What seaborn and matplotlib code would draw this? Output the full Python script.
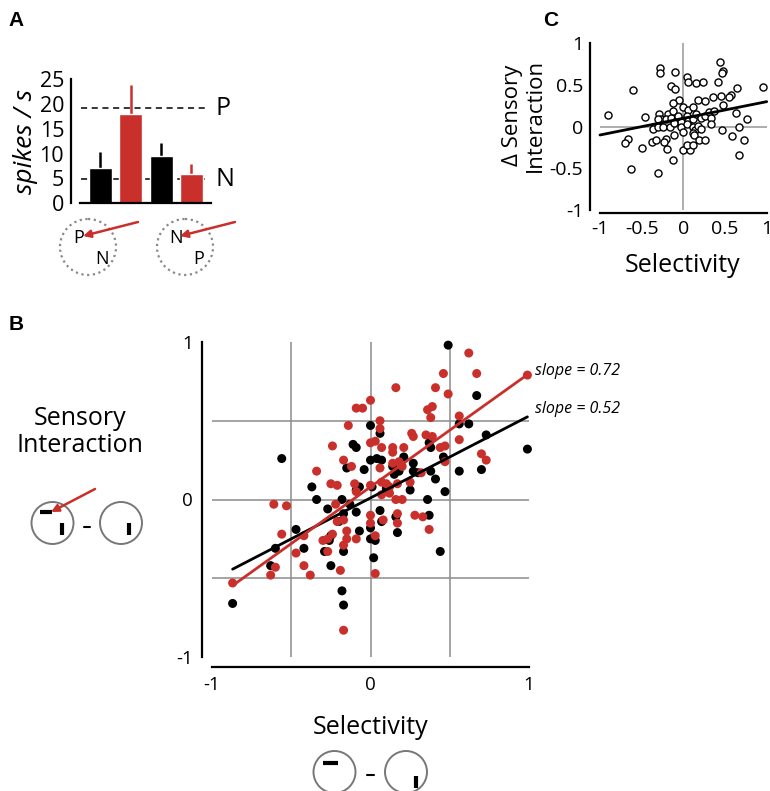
import numpy as np
import pandas as pd
import seaborn as sns
import matplotlib.pyplot as plt
from matplotlib.patches import Circle

sns.set_style("white")
plt.rcParams['font.family'] = ['Open Sans', 'DejaVu Sans']
plt.rcParams['text.color'] = 'black'
plt.rcParams['axes.labelcolor'] = 'black'
plt.rcParams['xtick.color'] = 'black'
plt.rcParams['ytick.color'] = 'black'

RED = '#c9302c'
W, H = 770, 791

# ---- panel A data: firing rate (spikes/s) for the four conditions
cond = ['P_none', 'P_cue', 'N_none', 'N_cue']
rate = [7.0, 17.9, 9.5, 5.8]
rate_err = [3.3, 5.9, 2.6, 2.1]
bar_colors = ['black', RED, 'black', RED]
level_P = 19.1
level_N = 4.8

# ---- panel B data: sensory interaction vs selectivity
black_x = [0.49, 0.67, 0.99, -0.56, 0.0, 0.06, 0.56, 0.62, 0.73, -0.11, -0.09, 0.37, 0.38,
           0.0, 0.04, 0.07, 0.46, 0.21, -0.15, -0.04, 0.14, 0.15, 0.18, 0.27, 0.27, 0.30,
           0.38, 0.41, 0.56, 0.70, -0.37, -0.34, -0.07, -0.09, 0.01, 0.10, 0.25, 0.36, 0.47,
           -0.27, -0.18, -0.13, -0.09, -0.17, -0.20, -0.47, -0.60, -0.63, -0.42, -0.29, -0.25,
           -0.17, -0.26, -0.25, -0.07, 0.0, 0.0, 0.03, 0.02, 0.06, 0.07, 0.16, 0.17, 0.37,
           0.44, -0.87, -0.18, -0.17]
black_y = [0.98, 0.66, 0.32, 0.26, 0.47, 0.42, 0.48, 0.48, 0.41, 0.35, 0.33, 0.36, 0.33,
           0.25, 0.26, 0.25, 0.27, 0.27, 0.20, 0.19, 0.21, 0.16, 0.18, 0.23, 0.18, 0.17,
           0.18, 0.13, 0.18, 0.19, 0.08, 0.0, 0.08, 0.06, 0.08, 0.07, 0.06, 0.0, 0.05,
           -0.06, 0.0, -0.03, -0.08, -0.09, -0.14, -0.19, -0.31, -0.42, -0.31, -0.33, -0.42,
           -0.33, -0.26, -0.23, -0.20, -0.18, -0.25, -0.26, -0.37, -0.07, -0.14, -0.11, -0.21, -0.10,
           -0.33, -0.66, -0.58, -0.67]
red_x = [0.62, 0.46, 0.67, 0.16, 0.41, 0.49, 0.0, -0.09, -0.05, 0.36, 0.39, 0.38, 0.56,
         0.06, 0.06, -0.14, -0.24, 0.0, 0.03, 0.07, 0.14, 0.14, 0.21, 0.26, 0.27, 0.35,
         0.39, 0.44, 0.47, 0.56, -0.17, -0.12, 0.06, 0.14, 0.18, 0.20, 0.47, 0.70, 0.73,
         -0.34, 0.32, -0.25, -0.21, -0.10, -0.09, 0.0, 0.07, 0.10, 0.12, 0.17, 0.25, 0.07,
         0.16, 0.20, -0.61, -0.53, -0.22, 0.0, 0.0, 0.08, 0.17, 0.17, 0.12, 0.28, 0.33,
         0.37, -0.21, -0.17, -0.15, -0.15, -0.17, -0.24, -0.27, -0.30, -0.09, -0.27, 0.03,
         -0.42, -0.56, -0.47, -0.42, -0.38, -0.60, -0.63, -0.19, 0.03, -0.87, -0.17, 0.99]
red_y = [0.93, 0.80, 0.80, 0.71, 0.71, 0.67, 0.63, 0.58, 0.58, 0.57, 0.59, 0.52, 0.53,
         0.50, 0.45, 0.47, 0.34, 0.36, 0.37, 0.33, 0.33, 0.30, 0.33, 0.42, 0.40, 0.41,
         0.40, 0.33, 0.34, 0.38, 0.25, 0.21, 0.20, 0.23, 0.24, 0.21, 0.24, 0.29, 0.25,
         0.18, 0.17, 0.10, 0.09, 0.10, 0.05, 0.09, 0.11, 0.10, 0.08, 0.10, 0.11, 0.03,
         0.0, 0.0, -0.03, -0.04, -0.03, -0.10, -0.15, -0.13, -0.09, -0.15, 0.04, -0.10, -0.11,
         -0.19, -0.14, -0.13, -0.20, -0.25, -0.29, -0.22, -0.25, -0.26, -0.25, -0.33, -0.23,
         -0.23, -0.22, -0.34, -0.42, -0.48, -0.43, -0.48, -0.45, -0.47, -0.53, -0.83, 0.79]
fit_x = [-0.87, 0.99]
black_fit = (0.01, 0.52)   # intercept, slope
red_fit = (0.08, 0.72)

# ---- panel C data: delta sensory interaction vs selectivity
c_x = [-0.91, -0.60, -0.63, -0.67, -0.70, -0.50, -0.46, -0.30, -0.28, -0.28, -0.10, -0.15,
       -0.10, 0.04, 0.05, 0.15, 0.24, 0.44, 0.47, 0.46, 0.42, 0.95, 0.64, 0.57, 0.55, 0.45,
       0.35, 0.47, 0.17, 0.26, -0.05, -0.13, -0.01, 0.05, 0.12, -0.29, -0.27, -0.31, -0.19,
       -0.21, -0.15, -0.13, -0.09, -0.03, -0.06, 0.04, 0.05, 0.11, 0.15, 0.21, 0.26, 0.31,
       0.33, 0.37, 0.33, 0.63, 0.76, -0.36, -0.30, -0.25, -0.16, -0.11, -0.03, 0.04, 0.11,
       0.14, 0.17, 0.21, -0.38, -0.33, -0.21, -0.23, -0.20, -0.11, 0.0, 0.11, 0.13, 0.19,
       0.26, -0.12, 0.0, 0.08, 0.04, 0.11, 0.46, 0.58, 0.67, 0.73, 0.67]
c_y = [0.14, 0.44, -0.51, -0.15, -0.20, -0.26, 0.11, -0.56, 0.70, 0.64, 0.65, 0.49,
       0.45, 0.59, 0.53, 0.52, 0.54, 0.78, 0.67, 0.64, 0.54, 0.48, 0.46, 0.38, 0.35, 0.37,
       0.36, 0.26, 0.32, 0.31, 0.32, 0.28, 0.23, 0.20, 0.24, 0.15, 0.09, 0.09, 0.15,
       0.09, 0.10, 0.19, 0.07, 0.06, 0.13, 0.13, 0.07, 0.09, 0.15, 0.10, 0.13, 0.17,
       0.10, 0.19, 0.03, 0.16, 0.09, -0.03, 0.0, 0.0, 0.0, 0.04, -0.01, 0.03, -0.01,
       -0.04, 0.01, -0.03, -0.19, -0.16, -0.15, -0.19, -0.27, -0.10, -0.06, -0.08, -0.10, -0.16,
       -0.16, -0.40, -0.28, -0.28, -0.22, -0.22, -0.04, -0.11, 0.0, -0.16, -0.34]
c_fit_x = [-1.0, 1.0]
c_fit = (0.10, 0.20)


def box(l, t, r, b):
    return [l / W, 1 - b / H, (r - l) / W, (b - t) / H]


def style_axis(ax, size):
    for s in ['top', 'right']:
        ax.spines[s].set_visible(False)
    for s in ['left', 'bottom']:
        ax.spines[s].set_linewidth(1.6)
        ax.spines[s].set_color('black')
    ax.tick_params(direction='out', length=3, width=1.2, colors='black', labelsize=size, pad=2)


fig = plt.figure(figsize=(W / 100, H / 100), dpi=100)

# overlay for icons and free text, in pixel coordinates
ov = fig.add_axes([0, 0, 1, 1])
ov.set_xlim(0, W)
ov.set_ylim(H, 0)
ov.axis('off')

# ---------------- panel A
axA = fig.add_axes(box(71, 79, 215, 203.3))
dfA = pd.DataFrame({'cond': cond, 'rate': rate})
axA.hlines([level_P, level_N], -0.64, 3.55, colors='black', linestyles=(0, (4, 3)), lw=1.1, zorder=0)
axA.errorbar(range(4), rate, yerr=[np.zeros(4), rate_err], fmt='none', ecolor=bar_colors,
             elinewidth=1.8, capsize=0, zorder=1)
sns.barplot(data=dfA, x='cond', y='rate', hue='cond', palette=bar_colors, width=0.76,
            saturation=1, legend=False, ax=axA, zorder=2)
axA.set_xlim(-0.97, 3.78)
axA.set_ylim(0, 25)
axA.set_yticks([0, 5, 10, 15, 20, 25])
axA.set_xticks([])
axA.set_xlabel('')
axA.set_ylabel('spikes / s', style='italic', fontsize=19, labelpad=1)
style_axis(axA, 15.5)
axA.spines['bottom'].set_bounds(-0.67, 3.65)
axA.patch.set_alpha(0)
axA.text(3.78, level_P, 'P', fontsize=18, va='center', ha='left')
axA.text(3.78, level_N, 'N', fontsize=18, va='center', ha='left')

for cx, top, bot in [(88, 'P', 'N'), (185, 'N', 'P')]:
    ov.add_patch(Circle((cx, 247), 28, fill=False, ec='#8a8a8a', lw=1.6, ls=(0, (1, 1.6))))
    ov.text(cx - 9, 238, top, fontsize=13, ha='center', va='center')
    ov.text(cx + 14, 259, bot, fontsize=13, ha='center', va='center')
    ov.annotate('', xy=(cx - 5, 236), xytext=(cx + 50, 222),
                arrowprops=dict(arrowstyle='-|>', color=RED, lw=1.8, mutation_scale=11,
                                shrinkA=0, shrinkB=0))

# ---------------- panel B
axB = fig.add_axes(box(212, 342, 529, 657))
for v in [-0.5, 0, 0.5]:
    axB.axvline(v, color='#8c8c8c', lw=1.1, zorder=0)
    axB.axhline(v, color='#8c8c8c', lw=1.1, zorder=0)
sns.scatterplot(x=black_x, y=black_y, color='black', s=42, edgecolor='none', ax=axB, zorder=2,
                clip_on=False)
sns.scatterplot(x=red_x, y=red_y, color=RED, s=42, edgecolor='none', ax=axB, zorder=2,
                clip_on=False)
fx = np.array(fit_x)
axB.plot(fx, black_fit[0] + black_fit[1] * fx, color='black', lw=2, zorder=3, clip_on=False)
axB.plot(fx, red_fit[0] + red_fit[1] * fx, color=RED, lw=2, zorder=3, clip_on=False)
axB.set_xlim(-1, 1)
axB.set_ylim(-1, 1)
axB.set_xticks([-1, 0, 1])
axB.set_yticks([-1, 0, 1])
axB.set_xticklabels(['-1', '0', '1'])
axB.set_yticklabels(['-1', '0', '1'])
style_axis(axB, 13.5)
axB.tick_params(pad=4)
axB.spines['left'].set_position(('outward', 7))
axB.spines['bottom'].set_position(('outward', 7))
axB.patch.set_alpha(0)
axB.text(1.04, red_fit[0] + red_fit[1] * 0.99 + 0.02, 'slope = 0.72', style='italic',
         fontsize=11.5, va='center', ha='left')
axB.text(1.04, black_fit[0] + black_fit[1] * 0.99 + 0.05, 'slope = 0.52', style='italic',
         fontsize=11.5, va='center', ha='left')

ov.text(80, 432, 'Sensory\nInteraction', fontsize=18, ha='center', va='center', linespacing=1.15)
ov.add_patch(Circle((52.5, 523), 21, fill=False, ec='#777777', lw=1.4))
ov.add_patch(Circle((121, 523), 21, fill=False, ec='#777777', lw=1.4))
ov.plot([84, 90], [527, 527], color='black', lw=1.5)
ov.plot([40, 52], [512, 512], color='black', lw=3, solid_capstyle='butt')
ov.plot([62, 62], [523, 535], color='black', lw=3, solid_capstyle='butt')
ov.plot([129, 129], [523, 535], color='black', lw=3, solid_capstyle='butt')
ov.annotate('', xy=(51, 512), xytext=(95, 489),
            arrowprops=dict(arrowstyle='-|>', color=RED, lw=1.8, mutation_scale=11,
                            shrinkA=0, shrinkB=0))

ov.text(371, 728, 'Selectivity', fontsize=18, ha='center', va='center')
ov.add_patch(Circle((334.5, 772), 21, fill=False, ec='#777777', lw=1.4))
ov.add_patch(Circle((406, 772), 21, fill=False, ec='#777777', lw=1.4))
ov.plot([367, 374], [775, 775], color='black', lw=1.5)
ov.plot([323, 338], [763, 763], color='black', lw=3, solid_capstyle='butt')
ov.plot([415.7, 415.7], [776, 788], color='black', lw=3, solid_capstyle='butt')

# ---------------- panel C
axC = fig.add_axes(box(600, 43.3, 766.7, 210))
axC.axvline(0, color='#a0a0a0', lw=1.2, zorder=0)
axC.axhline(0, color='#a0a0a0', lw=1.2, zorder=0)
sns.scatterplot(x=c_x, y=c_y, s=26, facecolor='white', edgecolor='black', linewidth=1,
                ax=axC, zorder=2, clip_on=False)
cfx = np.array(c_fit_x)
axC.plot(cfx, c_fit[0] + c_fit[1] * cfx, color='black', lw=2, zorder=3, clip_on=False)
axC.set_xlim(-1, 1)
axC.set_ylim(-1, 1)
ticksC = [-1, -0.5, 0, 0.5, 1]
axC.set_xticks(ticksC)
axC.set_yticks(ticksC)
axC.set_xticklabels(['-1', '-0.5', '0', '0.5', '1'])
axC.set_yticklabels(['-1', '-0.5', '0', '0.5', '1'])
style_axis(axC, 14)
axC.spines['left'].set_position(('outward', 7))
axC.spines['bottom'].set_position(('outward', 2))
axC.patch.set_alpha(0)
ov.text(683, 266, 'Selectivity', fontsize=18, ha='center', va='center')
ov.text(524, 115, '\u0394 Sensory\nInteraction', fontsize=16, ha='center', va='center',
        rotation=90, linespacing=1.1)

# panel letters
for lbl, x, y in [('A', 16, 20), ('B', 16, 325), ('C', 551, 20)]:
    ov.text(x, y, lbl, fontsize=15, fontweight='bold', ha='center', va='center',
            family='Liberation Sans')

fig.savefig('out.png', dpi=100)
